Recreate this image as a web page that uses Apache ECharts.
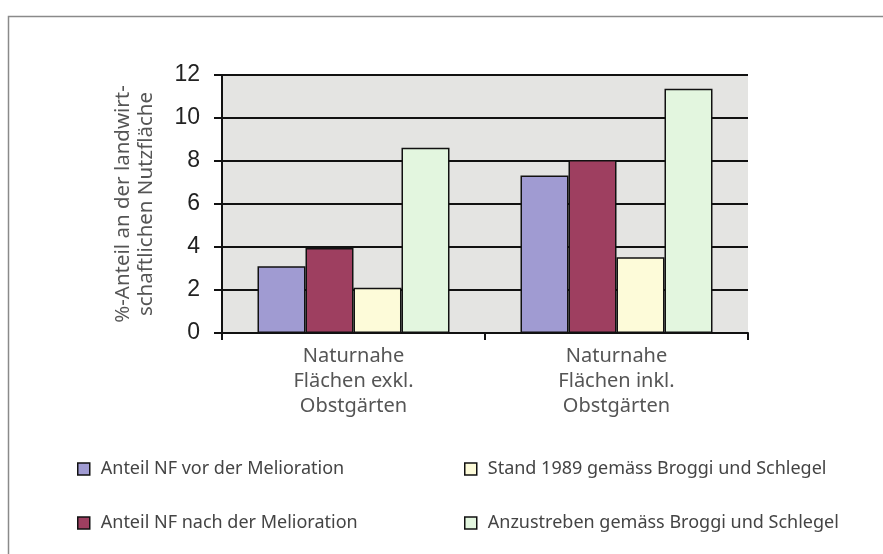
<!DOCTYPE html>
<html>
<head>
<meta charset="utf-8">
<script src="https://cdn.jsdelivr.net/npm/echarts@6/dist/echarts.min.js"></script>
<style>html,body{margin:0;padding:0;background:#fff}#c{width:883px;height:554px}</style>
</head>
<body>
<div id="c"></div>
<script>
const categories = ['Naturnahe\nFlächen exkl.\nObstgärten', 'Naturnahe\nFlächen inkl.\nObstgärten'];
const seriesNames = ['Anteil NF vor der Melioration', 'Anteil NF nach der Melioration', 'Stand 1989 gemäss Broggi und Schlegel', 'Anzustreben gemäss Broggi und Schlegel'];
const vorMelioration = [3.1, 7.32];
const nachMelioration = [3.95, 8.05];
const stand1989 = [2.1, 3.52];
const anzustreben = [8.62, 11.36];
const yTicks = [0, 2, 4, 6, 8, 10, 12];
const colors = ['#a09bd2', '#9e3f60', '#fdfbd9', '#e3f6df'];
const values = [vorMelioration, nachMelioration, stand1989, anzustreben];
</script>
<script>
const chart = echarts.init(document.getElementById('c'));
const txt = '"Noto Sans", "Open Sans", sans-serif';
const legendText = { fontFamily: txt, fontSize: 18, color: '#444', padding: [0, 0, 0, 6] };
const option = {
  animation: false,
  graphic: [{
    type: 'rect', left: 6, top: 14,
    shape: { width: 900, height: 600 },
    style: { fill: 'none', stroke: '#8a8a8a', lineWidth: 1.5 }
  }],
  grid: {
    left: 222, right: 135, top: 75, bottom: 221,
    show: true, backgroundColor: '#e4e4e2', borderWidth: 0
  },
  legend: [{
    data: seriesNames.slice(0, 2), orient: 'vertical', left: 72, top: 455,
    itemWidth: 12, itemHeight: 12, itemGap: 36, icon: 'rect',
    itemStyle: { borderColor: '#111', borderWidth: 1.5 },
    textStyle: legendText
  }, {
    data: seriesNames.slice(2, 4), orient: 'vertical', left: 459, top: 455,
    itemWidth: 12, itemHeight: 12, itemGap: 36, icon: 'rect',
    itemStyle: { borderColor: '#111', borderWidth: 1.5 },
    textStyle: legendText
  }],
  xAxis: {
    type: 'category', data: categories,
    axisLine: { lineStyle: { color: '#111', width: 2 } },
    axisTick: { show: true, length: 7, lineStyle: { color: '#111', width: 2 } },
    axisLabel: { fontFamily: txt, fontSize: 20, color: '#555', lineHeight: 25, margin: 11 }
  },
  yAxis: {
    type: 'value', min: 0, max: 12, interval: 2,
    name: '%-Anteil an der landwirt-\nschaftlichen Nutzfläche',
    nameLocation: 'middle', nameRotate: 90, nameGap: 64,
    nameTextStyle: { fontFamily: txt, fontSize: 20.5, color: '#555', lineHeight: 23 },
    axisLine: { show: true, lineStyle: { color: '#111', width: 2 } },
    axisTick: { show: true, length: 8, lineStyle: { color: '#111', width: 2 } },
    axisLabel: {
      fontFamily: '"Liberation Sans", Arial, sans-serif', fontSize: 23, color: '#222', margin: 22,
      formatter: v => yTicks.includes(v) ? String(v) : ''
    },
    splitLine: { show: true, lineStyle: { color: '#111', width: 2 } }
  },
  series: seriesNames.map((n, i) => ({
    name: n, type: 'bar', data: values[i],
    barGap: '0%', barCategoryGap: '27%',
    itemStyle: { color: colors[i], borderColor: '#111', borderWidth: 1.5 }
  }))
};
chart.setOption(option);
</script>
</body>
</html>
